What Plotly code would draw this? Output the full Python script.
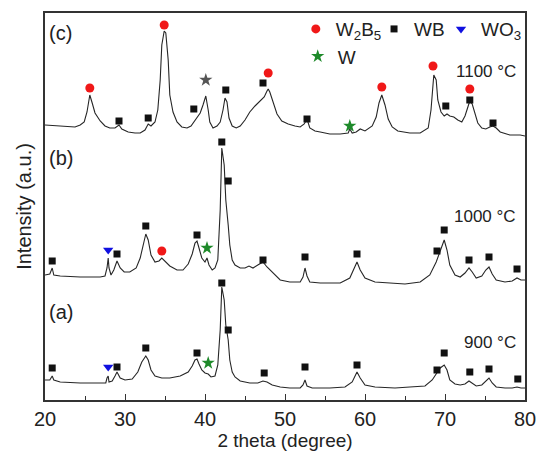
import plotly.graph_objects as go

# ---- XRD patterns (2 theta in degrees, intensity in arbitrary units, stacked) ----
two_theta_c = [20.0, 21.9, 23.75, 24.4, 24.9, 25.25, 25.5, 25.6, 25.9, 26.25, 26.9, 27.5, 28.1, 28.75,
               29.25, 29.6, 30.4, 31.25, 31.9, 32.5, 32.9, 33.25, 33.75, 34.1, 34.4, 34.6, 34.9, 35.1,
               35.4, 35.6, 36.0, 36.5, 37.1, 37.75, 38.25, 38.6, 39.0, 39.4, 39.75, 40.1, 40.4, 40.6,
               41.0, 41.5, 41.9, 42.25, 42.5, 42.75, 43.0, 43.4, 43.9, 44.4, 45.0, 45.6, 46.25, 46.6,
               47.0, 47.4, 47.75, 47.9, 48.1, 48.5, 49.0, 49.6, 50.4, 51.25, 51.9, 52.4, 52.75, 53.1,
               53.75, 54.4, 55.6, 56.9, 57.9, 58.1, 58.4, 58.9, 59.4, 60.0, 60.9, 61.4, 61.75, 62.1,
               62.5, 62.9, 63.4, 64.1, 65.6, 66.9, 67.9, 68.25, 68.5, 68.6, 68.9, 69.1, 69.5, 69.9,
               70.25, 70.6, 71.1, 71.6, 72.1, 72.5, 72.9, 73.1, 73.4, 73.75, 74.1, 74.6, 75.1, 75.6,
               76.0, 76.4, 76.9, 78.1, 79.4, 80.0]
intensity_c = [275, 274, 273, 275, 278, 288, 300, 305, 297, 287, 279, 274, 272, 272,
               275, 271, 268, 267, 267, 270, 276, 274, 278, 290, 320, 355, 369, 367,
               340, 305, 288, 278, 273, 272, 274, 278, 282, 287, 295, 304, 290, 278,
               272, 274, 278, 290, 302, 298, 282, 274, 272, 274, 280, 288, 294, 297,
               300, 303, 309, 311, 308, 298, 286, 279, 276, 274, 273, 276, 281, 272,
               269, 268, 266, 266, 267, 271, 267, 268, 271, 269, 274, 283, 297, 305,
               295, 281, 273, 269, 267, 267, 272, 290, 320, 325, 320, 300, 288, 284,
               286, 284, 283, 280, 278, 284, 294, 299, 296, 285, 277, 272, 271, 273,
               274, 272, 268, 265, 265, 264]

two_theta_b = [20.0, 20.6, 20.9, 21.1, 21.9, 24.4, 26.9, 27.5, 27.75, 27.9, 28.0, 28.25, 28.6, 29.0,
               29.4, 29.9, 30.6, 31.4, 31.9, 32.25, 32.6, 32.9, 33.25, 33.75, 34.25, 34.6, 35.0, 35.6,
               36.5, 37.25, 37.9, 38.4, 38.75, 39.0, 39.25, 39.6, 40.0, 40.25, 40.5, 40.9, 41.25, 41.6,
               41.9, 42.1, 42.4, 42.6, 42.9, 43.1, 43.4, 43.75, 44.4, 45.0, 45.5, 46.0, 46.6, 47.25,
               47.75, 48.4, 49.4, 50.6, 51.9, 52.25, 52.5, 52.75, 53.1, 54.4, 56.9, 58.1, 58.6, 59.0,
               59.4, 60.0, 61.25, 63.1, 65.0, 66.9, 68.1, 68.9, 69.4, 69.9, 70.25, 70.6, 71.25, 71.9,
               72.5, 73.0, 73.4, 73.9, 74.6, 75.1, 75.5, 75.9, 76.4, 77.5, 78.4, 79.0, 79.5, 80.0]
intensity_b = [125, 126, 132, 125, 124, 123, 123, 124, 132, 142, 132, 125, 130, 139,
               132, 128, 128, 132, 142, 155, 166, 160, 145, 138, 139, 142, 139, 134,
               130, 130, 136, 146, 157, 159, 152, 142, 138, 142, 135, 130, 132, 140,
               190, 252, 235, 200, 175, 155, 140, 135, 132, 132, 134, 132, 135, 138,
               133, 128, 120, 118, 118, 123, 132, 124, 118, 117, 117, 122, 132, 138,
               130, 122, 118, 117, 116, 118, 125, 138, 150, 160, 150, 135, 125, 123,
               127, 132, 128, 122, 124, 130, 133, 126, 120, 118, 119, 122, 120, 120]

two_theta_a = [20.0, 20.6, 20.9, 21.1, 21.9, 24.4, 26.9, 27.6, 27.75, 27.9, 28.0, 28.4, 28.75, 29.0,
               29.4, 30.0, 30.9, 31.6, 32.1, 32.6, 32.9, 33.25, 33.75, 34.6, 35.6, 36.9, 37.9, 38.4,
               38.75, 39.0, 39.25, 39.6, 40.0, 40.4, 40.75, 41.25, 41.6, 41.9, 42.1, 42.4, 42.6, 42.9,
               43.1, 43.4, 43.75, 44.4, 45.6, 46.6, 47.25, 47.75, 48.4, 49.4, 50.6, 51.9, 52.25, 52.5,
               52.75, 53.4, 55.6, 57.5, 58.4, 58.75, 59.0, 59.4, 60.0, 61.25, 63.75, 65.6, 67.5, 68.4,
               68.9, 69.4, 69.9, 70.25, 70.6, 71.25, 71.9, 72.5, 73.0, 73.4, 73.9, 74.6, 75.1, 75.5,
               75.9, 76.4, 77.5, 78.4, 79.0, 79.5, 80.0]
intensity_a = [20, 20, 24, 20, 18, 17, 17, 17, 22, 24, 18, 19, 24, 28,
               22, 20, 21, 28, 38, 44, 40, 30, 24, 22, 22, 24, 28, 34,
               40, 41, 36, 30, 27, 26, 23, 24, 35, 70, 113, 100, 75, 60,
               40, 28, 23, 19, 17, 17, 19, 18, 15, 13, 12, 12, 15, 20,
               14, 12, 12, 13, 18, 24, 28, 22, 15, 13, 12, 13, 14, 20,
               26, 32, 35, 30, 20, 16, 15, 16, 19, 17, 14, 15, 19, 22,
               17, 13, 12, 12, 13, 12, 12]

# ---- Phase markers (2 theta, height) ----
w2b5_c_x = [25.6, 34.9, 47.9, 62.1, 68.5, 73.1]
w2b5_c_y = [312, 375, 327, 313, 334, 311]
wb_c_x = [29.25, 32.9, 38.6, 42.6, 47.25, 52.75, 70.1, 73.1, 76.0]
wb_c_y = [279, 282, 291, 310, 317, 281, 294, 300, 277]
w_c_x = [40.1, 58.1]
w_c_y = [320, 274]

wb_b_x = [20.9, 29.0, 32.6, 39.0, 42.1, 42.9, 47.25, 52.5, 59.0, 69.0, 69.9, 73.0, 75.5, 79.0]
wb_b_y = [139, 146, 174, 165, 258, 219, 140, 143, 146, 149, 170, 140, 143, 131]
wo3_b_x = [27.9]
wo3_b_y = [150]
w2b5_b_x = [34.6]
w2b5_b_y = [149]
w_b_x = [40.25]
w_b_y = [152]

wb_a_x = [20.9, 29.0, 32.6, 39.0, 42.1, 42.9, 47.4, 52.5, 59.0, 69.0, 69.9, 73.1, 75.5, 79.1]
wb_a_y = [32, 33, 52, 47, 117, 70, 27, 33, 35, 30, 47, 28, 31, 21]
wo3_a_x = [27.9]
wo3_a_y = [33]
w_a_x = [40.4]
w_a_y = [37]

pattern_labels = ["(c)", "(b)", "(a)"]
temperature_labels = ["1100 \u00b0C", "1000 \u00b0C", "900 \u00b0C"]
x_ticks = [20, 30, 40, 50, 60, 70, 80]

FONT = "Liberation Sans, Arial, sans-serif"
LINE = "#262626"
RED = "#f01818"
BLUE = "#1010e0"
GREEN = "#1e8a2a"

fig = go.Figure()

for xs, ys in [(two_theta_c, intensity_c), (two_theta_b, intensity_b), (two_theta_a, intensity_a)]:
    fig.add_trace(go.Scatter(x=xs, y=ys, mode="lines", line=dict(color=LINE, width=1.1),
                             showlegend=False, hoverinfo="skip"))

def add_markers(xs, ys, symbol, color, size, name=None, legend=None):
    fig.add_trace(go.Scatter(
        x=xs, y=ys, mode="markers", name=name or "",
        marker=dict(symbol=symbol, color=color, size=size, line=dict(width=0)),
        showlegend=legend is not None, legend=legend or "legend", hoverinfo="skip"))

# marker series that also carry the legend entries
add_markers(w2b5_c_x, w2b5_c_y, "circle", RED, 9, "W<sub>2</sub>B<sub>5</sub>", "legend")
add_markers(wb_c_x, wb_c_y, "square", "#111111", 7, "WB", "legend2")
add_markers(wo3_b_x, wo3_b_y, "triangle-down", BLUE, 9, "WO<sub>3</sub>", "legend3")
add_markers(w_b_x, w_b_y, "star", GREEN, 10, "W", "legend4")

add_markers(w_c_x, w_c_y, "star", ["#555555", GREEN], 10)
add_markers(wb_b_x, wb_b_y, "square", "#111111", 7)
add_markers(w2b5_b_x, w2b5_b_y, "circle", RED, 9)

add_markers(wb_a_x, wb_a_y, "square", "#111111", 7)
add_markers(wo3_a_x, wo3_a_y, "triangle-down", BLUE, 9)
add_markers(w_a_x, w_a_y, "star", GREEN, 10)

annotations = []
for label, yv in zip(pattern_labels, [367, 242, 88]):
    annotations.append(dict(x=20.25, y=yv, text=label, showarrow=False, xanchor="left",
                            yanchor="middle", font=dict(size=20, color="#222", family=FONT)))
for label, yv in zip(temperature_labels, [329, 184, 58]):
    annotations.append(dict(x=79.1, y=yv, text=label, showarrow=False, xanchor="right",
                            yanchor="middle", font=dict(size=17, color="#222", family=FONT)))

legend_common = dict(orientation="h", xanchor="left", yanchor="top", bgcolor="rgba(0,0,0,0)",
                     borderwidth=0, font=dict(size=19, color="#222", family=FONT),
                     itemwidth=30, tracegroupgap=0)
top_row = dict(yref="container", y=0.978)

fig.update_layout(
    width=537, height=458,
    margin=dict(l=45, r=12, t=13, b=58, autoexpand=False),
    paper_bgcolor="white", plot_bgcolor="white",
    font=dict(family=FONT, color="#222"),
    annotations=annotations,
    legend=dict(x=0.5225, **top_row, **legend_common),
    legend2=dict(x=0.6855, **top_row, **legend_common),
    legend3=dict(x=0.825, **top_row, **legend_common),
    legend4=dict(x=0.5265, y=0.937, **legend_common),
    xaxis=dict(range=[20, 80], tickvals=x_ticks, ticks="inside", ticklen=6, tickwidth=1.2,
               tickcolor="#333", showline=True, linecolor="#333", linewidth=1.5, mirror=True,
               showgrid=False, zeroline=False,
               minor=dict(dtick=5, tick0=20, ticks="inside", ticklen=4, tickcolor="#333", tickwidth=1),
               tickfont=dict(size=20, color="#222", family=FONT),
               title=dict(text="2 theta (degree)", font=dict(size=19, color="#222", family=FONT), standoff=4)),
    yaxis=dict(range=[0, 387], showticklabels=False, ticks="", showline=True, linecolor="#333",
               linewidth=1.5, mirror=True, showgrid=False, zeroline=False,
               title=dict(text="Intensity (a.u.)", font=dict(size=20, color="#222", family=FONT), standoff=6)),
)

fig.write_html("out.html")
